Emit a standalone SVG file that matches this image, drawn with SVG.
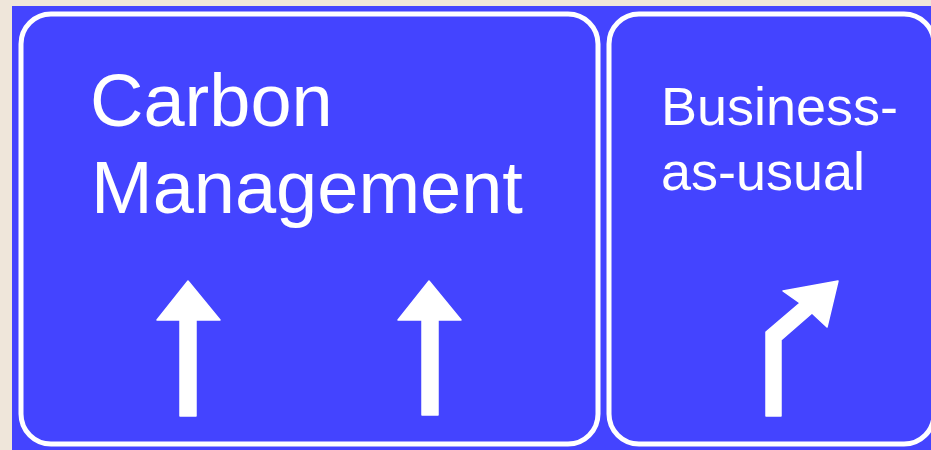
<svg xmlns="http://www.w3.org/2000/svg" width="931" height="450" viewBox="0 0 931 450">
<style>
.panel{fill:#4444FF;stroke:#FFFFFF;stroke-width:5}
.lbl{font-family:"Liberation Sans",Arial,Helvetica,sans-serif;fill:#FFFFFF}
.arrow{fill:#FFFFFF;stroke:#FFFFFF;stroke-width:1.5;stroke-linejoin:round}
</style>
<rect x="0" y="0" width="931" height="450" fill="#EFE6DA"/>
<rect x="12" y="6" width="919" height="444" fill="#4444FF"/>
<g id="carbon-management">
<rect class="panel" x="21" y="14" width="577" height="430" rx="30" ry="30"/>
<text class="lbl" x="90" y="126" font-size="74">Carbon</text>
<text class="lbl" x="91" y="213" font-size="74">Management</text>
<path class="arrow" d="M180,416 L180,320 L157,320 L188,281 L220,320 L196,320 L196,416 Z"/>
<path class="arrow" d="M422,415 L422,320 L398,320 L429,281 L461,320 L438,320 L438,415 Z"/>
</g>
<g id="business-as-usual">
<rect class="panel" x="609" y="14" width="325" height="430" rx="30" ry="30"/>
<text class="lbl" x="661" y="125" font-size="54">Business-</text>
<text class="lbl" x="661" y="190" font-size="54">as-usual</text>
<path class="arrow" d="M766,416 L766,332 L800,303 L783,291 L838,281 L827,327 L812,313 L781,340 L781,416 Z"/>
</g>
<g id="connectors"></g>
</svg>
